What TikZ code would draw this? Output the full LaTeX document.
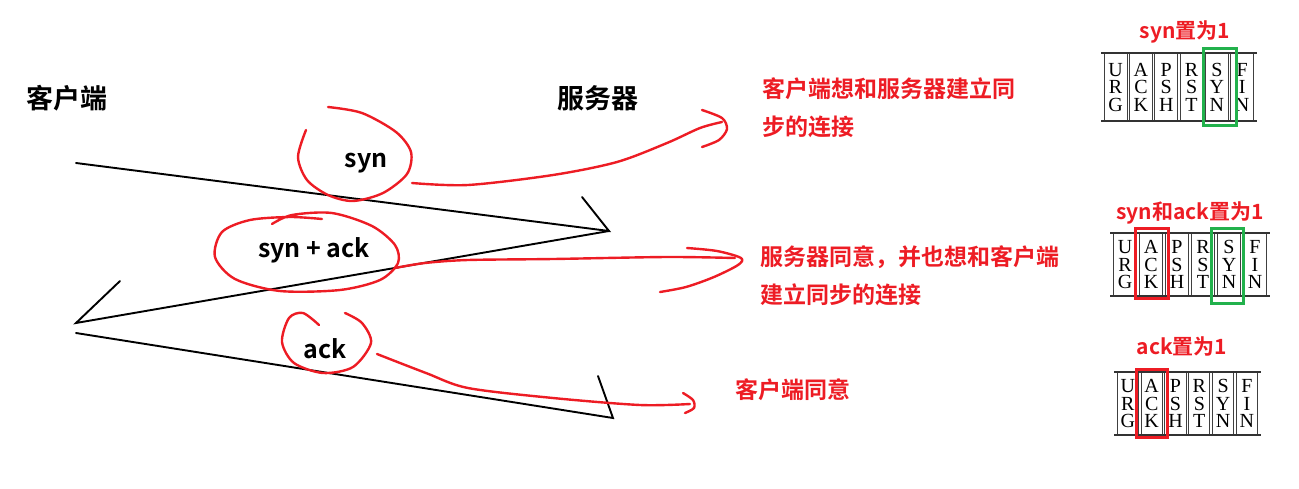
\documentclass[tikz,border=0pt]{standalone}
\usepackage{fontspec}
\setmainfont{Liberation Serif}
\newfontfamily\cjk{Noto Sans CJK SC Bold}
\usetikzlibrary{positioning,calc}
\definecolor{penred}{HTML}{ED1C24}
\definecolor{pengreen}{HTML}{22B14C}

% flag table: left x, top y, column width, height, name
\newcommand{\flagtable}[5]{%
  \foreach \i/\a/\b/\c in {0/U/R/G,1/A/C/K,2/P/S/H,3/R/S/T,4/S/Y/N,5/F/I/N} {
    \draw[cell] ({#1+\i*#3+1.3},#2) rectangle ({#1+(\i+1)*#3-1.3},{#2+#4});
    \node[flag] (#5-\i-a) at ({#1+(\i+0.5)*#3},{#2+#4/2-17.5}) {\a};
    \node[flag] (#5-\i-b) at ({#1+(\i+0.5)*#3},{#2+#4/2}) {\b};
    \node[flag] (#5-\i-c) at ({#1+(\i+0.5)*#3},{#2+#4/2+17.5}) {\c};
  }
  \draw[rim] ({#1-2},#2) -- ({#1+6*#3+2},#2);
  \draw[rim] ({#1-2},{#2+#4}) -- ({#1+6*#3+2},{#2+#4});
}

\begin{document}
\begin{tikzpicture}[x=1pt, y=-1pt,
    msg/.style={line width=1.9pt, line cap=round},
    pen/.style={penred, line width=2.4pt, line cap=round, line join=round},
    side/.style={font=\cjk\fontsize{27}{27}\selectfont},
    tag/.style={font=\cjk\fontsize{25}{25}\selectfont},
    head/.style={font=\cjk\fontsize{21}{21}\selectfont, text=penred},
    note/.style={font=\cjk\fontsize{23}{38}\selectfont, text=penred, align=left, anchor=west, inner sep=0pt},
    flag/.style={font=\fontsize{20}{20}\selectfont, inner sep=0pt, text height=13pt, text depth=0pt},
    cell/.style={line width=0.9pt, black!75},
    rim/.style={line width=1.8pt, black!80},
    hlbox/.style={line width=3pt}]
    \useasboundingbox (0,0) rectangle (1299,488);

    % client and server
    \node[side] (client) at (67,98) {客户端};
    \node[side] (server) at (598,98) {服务器};

    \coordinate (c1) at (76,163);
    \coordinate (s1) at (609,231);
    \coordinate (c2) at (76,323);
    \coordinate (c3) at (76,333);
    \coordinate (s3) at (613,418);
    \coordinate (b1) at (582,197);
    \coordinate (b2) at (120,281);
    \coordinate (b3) at (598,376);
    \draw[msg] (c1) -- (s1) -- (b1);
    \draw[msg] (s1) -- (c2) -- (b2);
    \draw[msg] (c3) -- (s3) -- (b3);

    \node[tag] (syn) at (366,163) {syn};
    \node[tag] (synack) at (314,250) {syn + ack};
    \node[tag] (ack) at (325,349) {ack};

    % hand drawn loops
    \draw[pen] plot[smooth] coordinates {(328,107) (362,113) (396,132) (411,152) (407,174) (383,193) (353,201) (328,195) (307,180) (298,157) (306,130)};
    \draw[pen] plot[smooth] coordinates {(272,224) (292,215) (332,213) (372,226) (395,245) (398,263) (380,280) (340,290) (280,291) (235,279) (215,257) (222,232) (250,220) (290,217) (322,219)};
    \draw[pen] plot[smooth] coordinates {(319,325) (303,313) (289,318) (282,342) (294,363) (323,373) (353,367) (371,343) (362,323) (345,313)};

    % notes
    \node[note] (note1) at (762,107.5) {客户端想和服务器建立同\\步的连接};
    \node[note] (note2) at (760,276) {服务器同意，并也想和客户端\\建立同步的连接};
    \node[note] (note3) at (735,390) {客户端同意};

    \draw[pen] plot[smooth] coordinates {(412,183) (468,185) (553,175) (617,162) (667,143) (700,128) (722,122)};
    \draw[pen] plot[smooth] coordinates {(702,110) (722,118) (727,129) (719,140) (702,147)};
    \draw[pen] plot[smooth] coordinates {(395,268) (425,263) (468,260) (553,259) (667,257) (735,258)};
    \draw[pen] plot[smooth] coordinates {(687,248) (717,251) (741,258) (738,265) (714,277) (686,287) (660,292)};
    \draw[pen] plot[smooth] coordinates {(377,354) (426,373) (468,388) (553,398) (640,405) (690,404)};
    \draw[pen] plot[smooth] coordinates {(683,393) (693,400) (694,408) (685,413)};

    % flag tables
    \node[head] (h1) at (1185,32) {syn置为1};
    \node[head] (h2) at (1190,213) {syn和ack置为1};
    \node[head] (h3) at (1182,346) {ack置为1};

    \flagtable{1103}{53}{25.3}{68}{t1}
    \flagtable{1112}{233}{26}{63}{t2}
    \flagtable{1116}{372}{23.8}{63}{t3}

    \draw[hlbox, pengreen] (1203,48) rectangle (1236,125);
    \draw[hlbox, penred] (1135,228) rectangle (1168,298);
    \draw[hlbox, pengreen] (1211,228) rectangle (1243,303);
    \draw[hlbox, penred] (1136,369) rectangle (1167,437);
\end{tikzpicture}
\end{document}
